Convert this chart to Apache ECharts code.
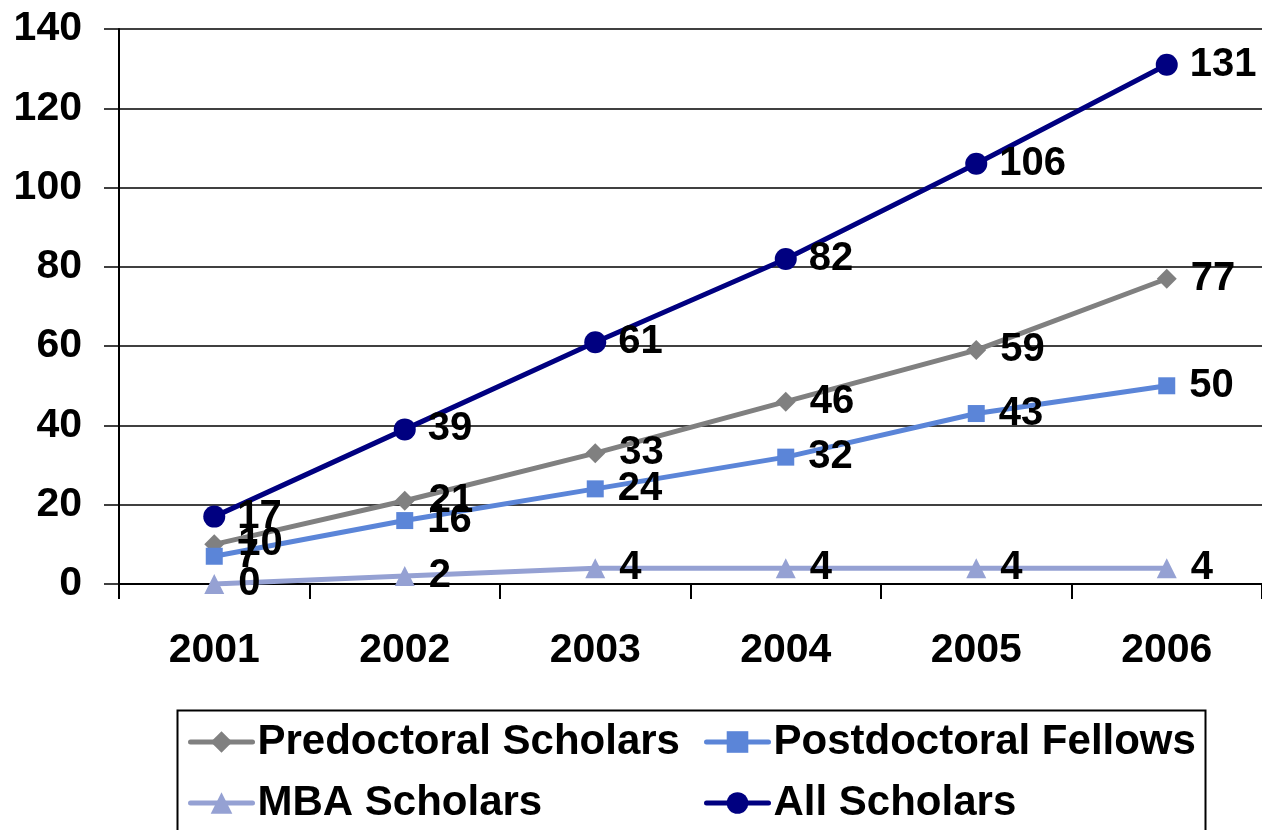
<!DOCTYPE html>
<html>
<head>
<meta charset="utf-8">
<script src="https://cdn.jsdelivr.net/npm/echarts@6/dist/echarts.min.js"></script>
<style>
html,body{margin:0;padding:0;background:#fff;}
#c{width:1262px;height:830px;}
</style>
</head>
<body>
<div id="c"></div>
<script>
const years = ['2001','2002','2003','2004','2005','2006'];
const predoctoral = [10,21,33,46,59,77];
const postdoctoral = [7,16,24,32,43,50];
const mba = [0,2,4,4,4,4];
const allScholars = [17,39,61,82,106,131];
const yTicks = {min:0, max:140, interval:20};

const FONT = '"Liberation Sans", Arial, sans-serif';
const labelStyle = (dist) => ({
  show: true, position: 'right', distance: dist,
  color: '#000', fontFamily: FONT, fontWeight: 'bold', fontSize: 40
});
function mk(name, data, color, symbol, size, dist) {
  return {
    name, type: 'line', data, symbol, symbolSize: size,
    lineStyle: {color, width: 5},
    itemStyle: {color},
    label: labelStyle(dist),
    animation: false
  };
}
function lg(name, left, top) {
  return {
    data: [name], left, top, padding: 0,
    itemWidth: 62, itemHeight: 27,
    lineStyle: {width: 5, cap: 'round'},
    textStyle: {color: '#000', fontFamily: FONT, fontWeight: 'bold', fontSize: 42, lineHeight: 44}
  };
}
const chart = echarts.init(document.getElementById('c'), null, {renderer:'canvas'});
chart.setOption({
  backgroundColor: '#fff',
  animation: false,
  grid: {left: 119, top: 29, width: 1148, bottom: 246, containLabel: false},
  xAxis: {
    type: 'category', data: years, boundaryGap: true,
    axisLine: {lineStyle: {color: '#000', width: 2}},
    axisTick: {show: true, length: 15, lineStyle: {color: '#000', width: 2}},
    axisLabel: {color: '#000', fontFamily: FONT, fontWeight: 'bold', fontSize: 41, margin: 46}
  },
  yAxis: {
    type: 'value', min: yTicks.min, max: yTicks.max, interval: yTicks.interval,
    axisLine: {show: true, lineStyle: {color: '#000', width: 2}},
    axisTick: {show: true, length: 15, lineStyle: {color: '#000', width: 1.5}},
    splitLine: {show: true, lineStyle: {color: '#000', width: 1.5}},
    axisLabel: {color: '#000', fontFamily: FONT, fontWeight: 'bold', fontSize: 41, margin: 37}
  },
  legend: [
    lg('Predoctoral Scholars', 188, 720),
    lg('MBA Scholars', 188, 781),
    lg('Postdoctoral Fellows', 704, 720),
    lg('All Scholars', 704, 781)
  ],
  graphic: [{
    type: 'rect', left: 175, top: 708, z: -1,
    shape: {width: 1028, height: 140},
    style: {fill: 'none', stroke: '#000', lineWidth: 2}
  }],
  series: [
    mk('Predoctoral Scholars', predoctoral, '#808080', 'diamond', 20, 14),
    mk('Postdoctoral Fellows', postdoctoral, '#5b85d8', 'rect', 17, 14),
    mk('MBA Scholars', mba, '#95a1d3', 'triangle', 20, 14),
    mk('All Scholars', allScholars, '#000080', 'circle', 22, 12)
  ]
});
</script>
</body>
</html>
